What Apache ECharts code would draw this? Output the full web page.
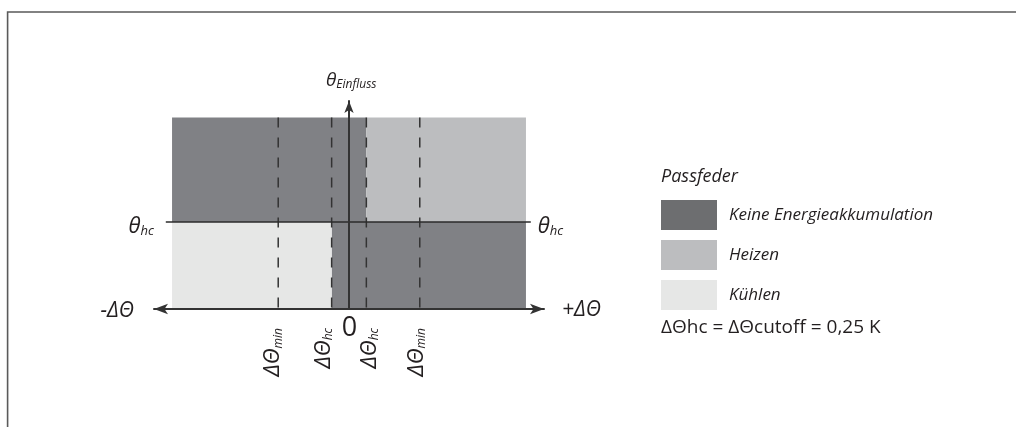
<!DOCTYPE html>
<html><head><meta charset="utf-8">
<script src="https://cdn.jsdelivr.net/npm/echarts@6/dist/echarts.min.js"></script>
<style>html,body{margin:0;padding:0;background:#fff}#c{width:1016px;height:427px}</style>
</head><body><div id="c"></div>
<script>
// ---------- data ----------
const legendNames = ['Keine Energieakkumulation', 'Heizen', 'Kühlen'];
const legendTitle = 'Passfeder';
const noteText = 'ΔΘhc = ΔΘcutoff = 0,25 K';
// regions: [x0, x1, y0, y1]
const noAccumRects = [[-2.55, 0.25, 1, 2.2], [-0.25, 2.55, 0, 1]];
const heatRects = [[0.25, 2.55, 1, 2.2]];
const coolRects = [[-2.55, -0.25, 0, 1]];
const dashedX = [-1.02, -0.25, 0.25, 1.02];
const dashedTop = 2.2;
const thetaHc = 1;
const hcLineX = [-2.64, 2.62];
const xRange = [-2.81, 2.81];
const yRange = [0, 2.39];
const tickLabels = [['ΔΘ', 'min'], ['ΔΘ', 'hc'], ['ΔΘ', 'hc'], ['ΔΘ', 'min']];
const zeroLabel = '0';
const xEndLabels = ['-ΔΘ', '+ΔΘ'];
const yAxisLabel = ['θ', 'Einfluss'];
const hcLabel = ['θ', 'hc'];

// ---------- styling ----------
const FONT = '"Open Sans", "Noto Sans", sans-serif';
const TXT = '#231f20';
const AX = '#333333';
const colDark = '#808185', colDarkLegend = '#6d6e70', colHeat = '#bcbdbf', colCool = '#e6e7e6';

function f(style, size) { return style + ' ' + size + 'px ' + FONT; }
function subText(parts, mainSize, subSize) {
  return {
    text: '{m|' + parts[0] + '}{s|' + parts[1] + '}',
    rich: {
      m: { font: f('italic', mainSize), fill: TXT, verticalAlign: 'bottom', lineHeight: mainSize + 4 },
      s: { font: f('italic', subSize), fill: TXT, verticalAlign: 'bottom', lineHeight: subSize }
    }
  };
}

// annotation anchors come from the data arrays; offsets are pixel styling
const annotations = [
  { pos: [0, yRange[1]], t: subText(yAxisLabel, 19, 12), dx: -23, dy: -22, align: 'left' },
  { pos: [hcLineX[0], thetaHc], t: subText(hcLabel, 22, 13), dx: -12, dy: 2.5, align: 'right' },
  { pos: [hcLineX[1], thetaHc], t: subText(hcLabel, 22, 13), dx: 7, dy: 2.5, align: 'left' },
  { pos: [xRange[0], 0], t: { text: xEndLabels[0], font: f('italic', 21), fill: TXT }, dx: -20, dy: 2.5, align: 'right' },
  { pos: [xRange[1], 0], t: { text: xEndLabels[1], font: f('italic', 21), fill: TXT }, dx: 18, dy: 1.5, align: 'left' },
  { pos: [0, 0], t: { text: zeroLabel, font: f('normal', 27), fill: TXT }, dx: 0.5, dy: 19.5, align: 'center' }
];
const rotDx = [-7, -10, 1.6, -5];
dashedX.forEach((x, i) => {
  annotations.push({ pos: [x, 0], t: subText(tickLabels[i], 22, 12), dx: rotDx[i], dy: 19, align: 'right', rot: Math.PI / 2 });
});

function rectItem(params, api) {
  const p0 = api.coord([api.value(0), api.value(3)]);
  const p1 = api.coord([api.value(1), api.value(2)]);
  return { type: 'rect', shape: { x: p0[0], y: p0[1], width: p1[0] - p0[0], height: p1[1] - p0[1] }, style: { fill: api.visual('color') } };
}
function rectSeries(name, data, color, z) {
  return { type: 'custom', name: name, data: data, encode: { x: [0, 1], y: [2, 3] }, itemStyle: { color: color }, renderItem: rectItem, z: z, silent: true };
}

const chart = echarts.init(document.getElementById('c'), null, { renderer: 'canvas' });
chart.setOption({
  animation: false,
  backgroundColor: '#ffffff',
  grid: { left: 154, right: 472, top: 101, bottom: 118 },
  xAxis: {
    type: 'value', min: xRange[0], max: xRange[1], z: 10,
    axisLine: { onZero: true, symbol: ['arrow', 'arrow'], symbolSize: [8, 14], lineStyle: { color: AX, width: 2 } },
    axisTick: { show: false }, axisLabel: { show: false }, splitLine: { show: false }
  },
  yAxis: {
    type: 'value', min: yRange[0], max: yRange[1], z: 10,
    axisLine: { onZero: true, symbol: ['none', 'arrow'], symbolSize: [7, 12], lineStyle: { color: AX, width: 2 } },
    axisTick: { show: false }, axisLabel: { show: false }, splitLine: { show: false }
  },
  title: [
    { text: legendTitle, left: 661, top: 168, textStyle: { fontFamily: FONT, fontStyle: 'italic', fontWeight: 'normal', fontSize: 18, color: TXT }, padding: 0 },
    { text: noteText, left: 661, top: 318, textStyle: { fontFamily: FONT, fontWeight: 'normal', fontSize: 19, color: TXT }, padding: 0 }
  ],
  legend: {
    orient: 'vertical', left: 661, top: 200, padding: 0,
    itemWidth: 56, itemHeight: 30, itemGap: 10, icon: 'rect', selectedMode: false,
    textStyle: { fontFamily: FONT, fontStyle: 'italic', fontSize: 17, color: TXT, padding: [0, 0, 0, 7] },
    data: [
      { name: legendNames[0], itemStyle: { color: colDarkLegend } },
      { name: legendNames[1] },
      { name: legendNames[2] }
    ]
  },
  graphic: [{
    type: 'polyline', silent: true,
    shape: { points: [[7.6, 427], [7.6, 12], [1016, 12]] },
    style: { stroke: '#5a5a5a', lineWidth: 1.6, fill: null }
  }],
  series: [
    rectSeries(legendNames[0], noAccumRects, colDark, 1),
    rectSeries(legendNames[1], heatRects, colHeat, 1),
    rectSeries(legendNames[2], coolRects, colCool, 1),
    {
      type: 'custom', name: 'dashes', silent: true, z: 3,
      data: dashedX.map(x => [x, 0, dashedTop]), encode: { x: 0, y: [1, 2] },
      renderItem: function (params, api) {
        const a = api.coord([api.value(0), api.value(2)]);
        const b = api.coord([api.value(0), api.value(1)]);
        return { type: 'line', shape: { x1: a[0], y1: a[1], x2: b[0], y2: b[1] }, style: { stroke: AX, lineWidth: 1.5, lineDash: [10, 10] } };
      }
    },
    {
      type: 'line', name: 'hcLine', silent: true, z: 4, symbol: 'none',
      data: [[hcLineX[0], thetaHc], [hcLineX[1], thetaHc]],
      lineStyle: { color: '#2b2b2b', width: 1.5 }
    },
    {
      type: 'custom', name: 'labels', silent: true, z: 12,
      data: annotations.map(a => a.pos), encode: { x: 0, y: 1 },
      renderItem: function (params, api) {
        const a = annotations[params.dataIndex];
        const p = api.coord([api.value(0), api.value(1)]);
        const style = Object.assign({ x: 0, y: 0, align: a.align, verticalAlign: 'middle' }, a.t);
        return { type: 'text', x: p[0] + a.dx, y: p[1] + a.dy, rotation: a.rot || 0, style: style };
      }
    }
  ]
});
</script></body></html>
